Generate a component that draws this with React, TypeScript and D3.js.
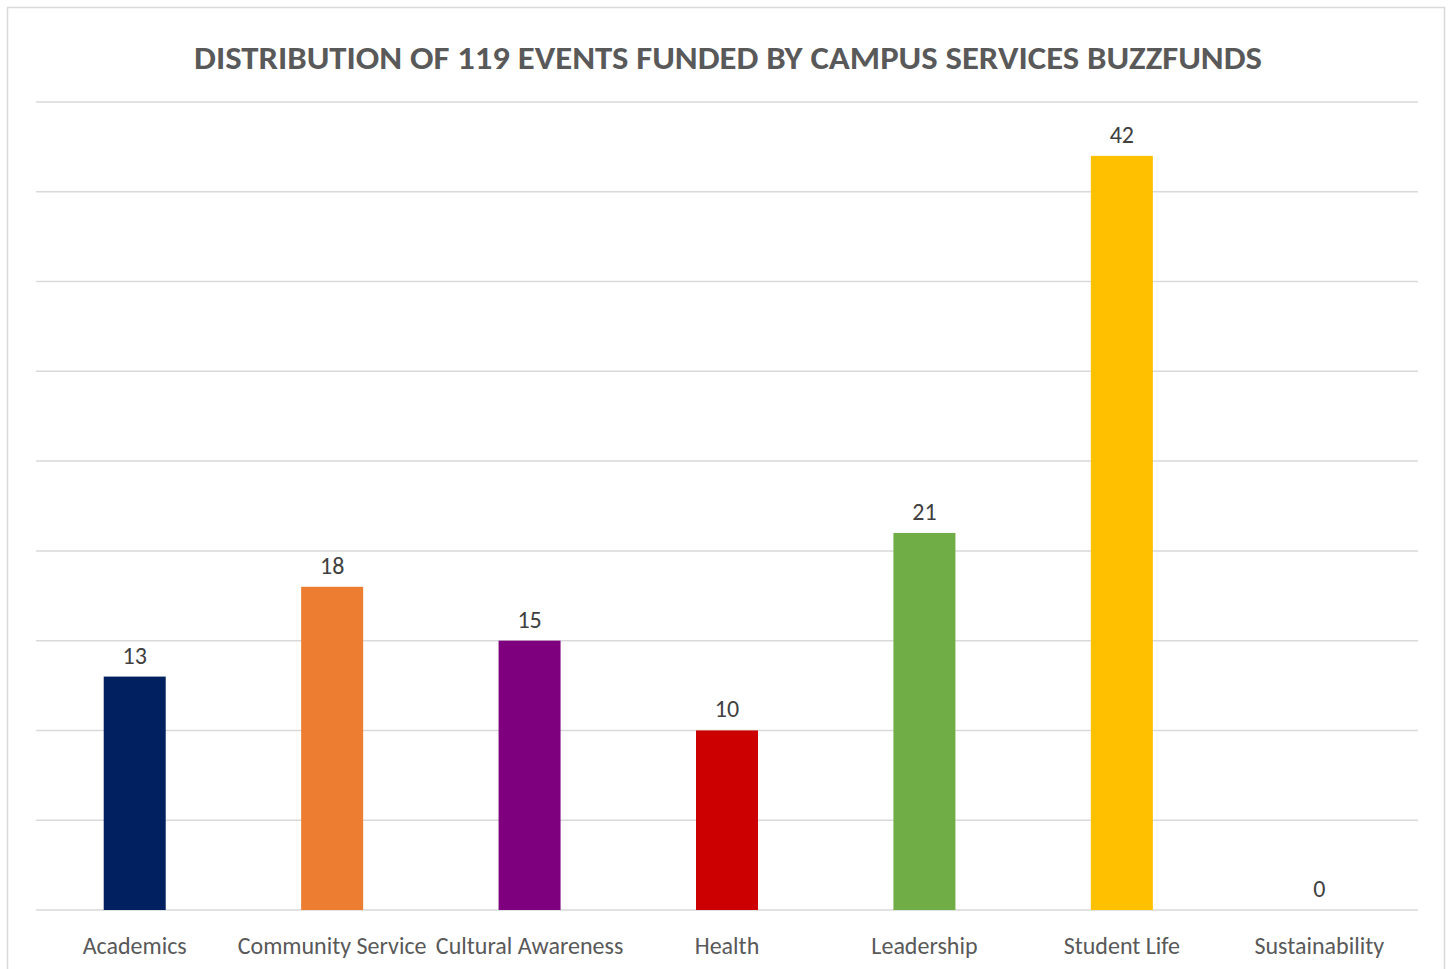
import React from "react";
import * as d3 from "d3";

const categories = ["Academics", "Community Service", "Cultural Awareness", "Health", "Leadership", "Student Life", "Sustainability"];
const values = [13, 18, 15, 10, 21, 42, 0];
const colors = ["#002060", "#ED7D31", "#7F007F", "#CC0000", "#70AD47", "#FFC000", "#A5A5A5"];
const yTicks = [0, 5, 10, 15, 20, 25, 30, 35, 40, 45];
const title = "DISTRIBUTION OF 119 EVENTS FUNDED BY CAMPUS SERVICES BUZZFUNDS";

export default function App() {
  const W = 1452, H = 969;
  const left = 36, right = 1418, top = 102, bottom = 910;
  const x = d3.scaleBand<string>().domain(categories).range([left, right]).paddingInner(0).paddingOuter(0);
  const y = d3.scaleLinear().domain([0, 45]).range([bottom, top]);
  const bw = 62;
  const font = "Calibri, Carlito, 'Open Sans', sans-serif";
  return (
    <svg width={W} height={H} style={{ position: "absolute", left: 0, top: 0, background: "#fff" }} fontFamily={font}>
      <rect x={7.5} y={7.5} width={1437} height={1000} fill="#fff" stroke="#d9d9d9" strokeWidth={1.5} />
      <text x={728} y={69} textAnchor="middle" fontSize={32} fontWeight="bold" fill="#595959" textLength={1068} lengthAdjust="spacingAndGlyphs">{title}</text>
      {yTicks.map((t) => (
        <line key={t} x1={left} x2={right} y1={y(t)} y2={y(t)} stroke="#d9d9d9" strokeWidth={1.5} />
      ))}
      {categories.map((c, i) => {
        const cx = (x(c) as number) + x.bandwidth() / 2;
        return (
          <g key={c}>
            {values[i] > 0 && (
              <rect x={cx - bw / 2} y={y(values[i])} width={bw} height={y(0) - y(values[i])} fill={colors[i]} />
            )}
            <text x={cx} y={y(values[i]) - 13} textAnchor="middle" fontSize={24} fill="#404040">{values[i]}</text>
            <text x={cx} y={954} textAnchor="middle" fontSize={24} fill="#595959">{c}</text>
          </g>
        );
      })}
    </svg>
  );
}
